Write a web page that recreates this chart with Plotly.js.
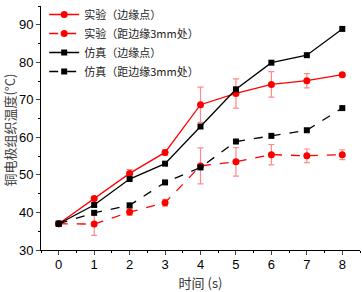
<!DOCTYPE html>
<html><head><meta charset="utf-8">
<script src="https://cdn.plot.ly/plotly-3.0.1.min.js"></script>
<style>html,body{margin:0;padding:0;background:#fff}</style>
</head><body><div id="chart" style="width:362px;height:292px"></div>
<script>
const timeS = [0, 1, 2, 3, 4, 5, 6, 7, 8];
const expEdge = [37, 43.7, 50.4, 56.0, 68.7, 71.7, 74.1, 75.1, 76.7];
const expEdgeErr = [0, 0.5, 1.0, 0.7, 4.7, 3.9, 3.4, 1.9, 0.5];
const exp3mm = [37, 36.9, 40.1, 42.6, 52.4, 53.5, 55.4, 55.1, 55.4];
const exp3mmErr = [0, 3.0, 0.9, 0.9, 4.8, 3.8, 2.7, 1.8, 1.3];
const simEdge = [37, 42.0, 48.9, 53.0, 62.9, 72.8, 79.9, 81.9, 88.9];
const sim3mm = [37, 39.9, 41.9, 48.0, 52.0, 58.9, 60.4, 61.9, 67.8];
const names = ['实验（边缘点）', '实验（距边缘3mm处）', '仿真（边缘点）', '仿真（距边缘3mm处）'];
const yTitle = '铜电极组织温度(°C)';
const xTitle = '时间 (s)';

const errStyle = {type: 'data', visible: true, color: 'rgba(255,60,60,0.6)', thickness: 1.2, width: 3};
const traces = [
  {x: timeS, y: expEdge, name: names[0], mode: 'lines+markers',
   line: {color: '#ff0000', width: 1.3}, marker: {symbol: 'circle', size: 7, color: '#ff0000'},
   error_y: Object.assign({array: expEdgeErr}, errStyle)},
  {x: timeS, y: exp3mm, name: names[1], mode: 'lines+markers',
   line: {color: '#ff0000', width: 1.3, dash: 'dash'}, marker: {symbol: 'circle', size: 7, color: '#ff0000'},
   error_y: Object.assign({array: exp3mmErr}, errStyle)},
  {x: timeS, y: simEdge, name: names[2], mode: 'lines+markers',
   line: {color: '#000000', width: 1.3}, marker: {symbol: 'square', size: 6, color: '#000000'}},
  {x: timeS, y: sim3mm, name: names[3], mode: 'lines+markers',
   line: {color: '#000000', width: 1.3, dash: 'dash'}, marker: {symbol: 'square', size: 6, color: '#000000'}}
];

const layout = {
  width: 362, height: 292,
  margin: {l: 41, r: 2, t: 0, b: 42},
  paper_bgcolor: '#fff', plot_bgcolor: '#fff',
  font: {family: 'Liberation Sans, Arial, sans-serif', size: 13, color: '#000'},
  showlegend: true,
  legend: {x: 0.01, y: 1.025, xanchor: 'left', yanchor: 'top', bgcolor: 'rgba(0,0,0,0)',
    font: {family: 'Noto Sans CJK SC, sans-serif', size: 11, color: '#222'},
    tracegroupgap: 0, itemwidth: 30},
  xaxis: {range: [-0.5, 8.5], tickvals: timeS, ticks: 'outside', ticklen: 4, tickwidth: 1,
    showline: true, linecolor: '#000', linewidth: 1, showgrid: false, zeroline: false,
    minor: {dtick: 0.5, ticks: 'outside', ticklen: 2, tickcolor: '#000'},
    tickfont: {size: 13}, ticklabelstandoff: -2,
    title: {text: xTitle, font: {family: 'Noto Sans CJK SC, sans-serif', size: 13, color: '#333'}, standoff: 11}},
  yaxis: {range: [30, 95], tickvals: [30, 40, 50, 60, 70, 80, 90], ticks: 'outside', ticklen: 4, tickwidth: 1,
    showline: true, linecolor: '#000', linewidth: 1, showgrid: false, zeroline: false,
    minor: {dtick: 5, ticks: 'outside', ticklen: 2, tickcolor: '#000'},
    tickfont: {size: 13}},
  annotations: [{text: yTitle, xref: 'paper', yref: 'paper', x: -0.1, y: 0.49,
    xanchor: 'center', yanchor: 'middle', textangle: -90, showarrow: false,
    font: {family: 'Noto Sans CJK SC, sans-serif', size: 13, color: '#444'}}]
};
Plotly.newPlot('chart', traces, layout, {displayModeBar: false, staticPlot: true});
</script></body></html>
